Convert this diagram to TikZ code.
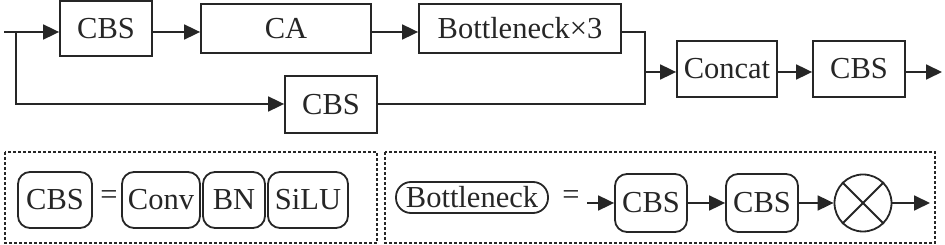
\documentclass[tikz,border=0pt]{standalone}
\usepackage{fontspec}
\setmainfont{Liberation Serif}
\usetikzlibrary{arrows.meta,calc}
\begin{document}
\begin{tikzpicture}[x=1pt,y=-1pt,line width=1.8pt,color=black!85,
  box/.style={draw,rectangle,inner sep=0pt,font=\fontsize{30.5}{30}\selectfont},
  rbox/.style={box,rounded corners=12pt},
  arr/.style={-{Triangle[length=16pt,width=15pt]}},
  dbox/.style={draw,dash pattern=on 3pt off 2pt,line width=1.8pt},
  eq/.style={inner sep=0pt,font=\fontsize{30.5}{30}\selectfont}]
\useasboundingbox[fill=white] (0,0) rectangle (945,245);
% top row
\node[box,minimum width=92pt,minimum height=55pt] (cbs1) at (106,28.5) {CBS};
\node[box,minimum width=170pt,minimum height=49pt] (ca) at (286,28.5) {CA};
\node[box,minimum width=202pt,minimum height=49pt] (bot) at (520,28.5) {Bottleneck×3};
\node[box,minimum width=92pt,minimum height=57pt] (cbs2) at (331,104.5) {CBS};
\node[box,minimum width=100pt,minimum height=56pt] (concat) at (727,69) {Concat};
\node[box,minimum width=92pt,minimum height=56pt] (cbs3) at (859,69) {CBS};
\coordinate (in) at (4,32);
\coordinate (br) at (16,32);
\coordinate (low) at (16,104);
\coordinate (j) at (645,72);
\coordinate (out) at (942,72);
\draw[arr] (in) -- (cbs1.west |- in);
\draw[arr] (cbs1.east |- in) -- (ca.west |- in);
\draw[arr] (ca.east |- in) -- (bot.west |- in);
\draw (bot.east |- in) -| (j |- low) -- (cbs2.east |- low);
\draw[arr] (br) |- (cbs2.west |- low);
\draw[arr] (j) -- (concat.west |- j);
\draw[arr] (concat.east |- j) -- (cbs3.west |- j);
\draw[arr] (cbs3.east |- j) -- (out);
% legend left
\draw[dbox] (5,152) rectangle (377,243);
\node[rbox,minimum width=74pt,minimum height=56pt] (lc) at (55,200) {CBS};
\node[eq] (eq1) at (109,198) {=};
\node[rbox,minimum width=78pt,minimum height=56pt] (lconv) at (161,200) {Conv};
\node[rbox,minimum width=62pt,minimum height=56pt] (lbn) at (234,200) {BN};
\node[rbox,minimum width=80pt,minimum height=56pt] (lsilu) at (308,200) {SiLU};
% legend right
\draw[dbox] (385,152) rectangle (935,243);
\node[rbox,rounded corners=15pt,minimum width=152pt,minimum height=31pt] (lb) at (472,197.5) {Bottleneck};
\node[eq] (eq2) at (571,198) {=};
\coordinate (bs) at (587,203);
\node[rbox,minimum width=72pt,minimum height=58pt] (b1) at (651,203) {CBS};
\node[rbox,minimum width=72pt,minimum height=58pt] (b2) at (762,203) {CBS};
\node[draw,circle,minimum size=57pt,inner sep=0pt] (mul) at (863,203) {};
\draw (mul.45) -- (mul.225);
\draw (mul.135) -- (mul.315);
\coordinate (bo) at (930,203);
\draw[arr] (bs) -- (b1.west);
\draw[arr] (b1.east) -- (b2.west);
\draw[arr] (b2.east) -- (mul.west);
\draw[arr] (mul.east) -- (bo);
\end{tikzpicture}
\end{document}
